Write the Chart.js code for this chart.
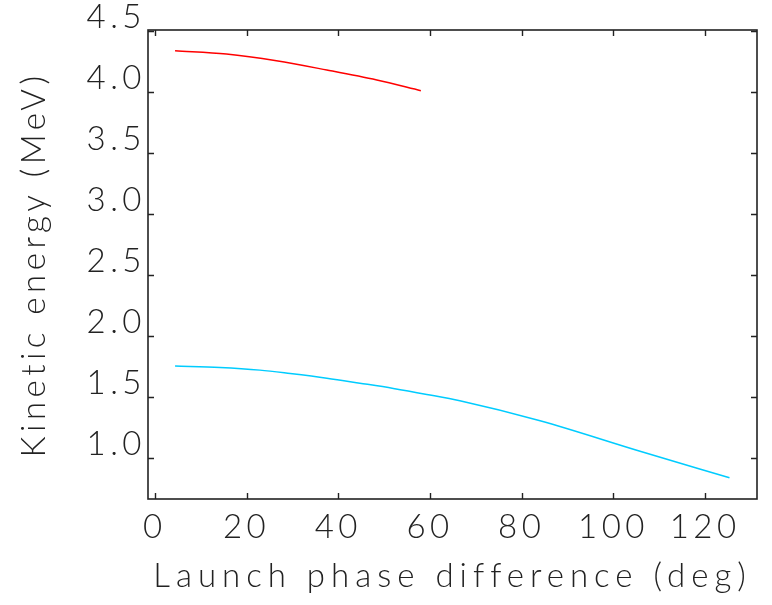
<!DOCTYPE html>
<html>
<head>
<meta charset="utf-8">
<script src="https://cdn.jsdelivr.net/npm/chart.js@4/dist/chart.umd.min.js"></script>
<style>
  html, body { margin: 0; padding: 0; background: #ffffff; }
  #wrap { width: 772px; height: 605px; position: relative; }
</style>
</head>
<body>
<div id="wrap"><canvas id="c" width="772" height="605"></canvas></div>
<script>
// ---- data ----
const xTitle = "Launch phase difference (deg)";
const yTitle = "Kinetic energy (MeV)";
const redPhase  = [4.4, 15.6, 26.5, 37.5, 48.4, 58.0];
const redEnergy = [4.340, 4.313, 4.258, 4.182, 4.100, 4.013];
const bluePhase  = [4.4, 14.2, 22.9, 29.5, 37.5, 44.7, 52.0, 59.3, 66.5, 84.0, 105.8, 125.3];
const blueEnergy = [1.757, 1.745, 1.723, 1.695, 1.657, 1.616, 1.573, 1.524, 1.472, 1.308, 1.058, 0.841];
const xRange = [-1.5, 131.3];
const yRange = [0.667, 4.51];
const xStep = 20;
const yStep = 0.5;

const toPts = (xs, ys) => xs.map((x, i) => ({ x: x, y: ys[i] }));

const FONT_FAMILY = 'Lato, "Liberation Sans", sans-serif';
const TICK_SPACING = '4.5px';
const TITLE_SPACING = { x: '6px', y: '4.5px' };
const INK = '#222222';
const FONT = { family: FONT_FAMILY, size: 33, weight: 300 };

function patchTitles(chart) {
  Object.values(chart.scales).forEach(s => {
    if (s._spacingPatched) return;
    const orig = s.drawTitle.bind(s);
    s.drawTitle = function () {
      const ctx = this.ctx;
      const prev = ctx.letterSpacing;
      ctx.letterSpacing = TITLE_SPACING[this.id] || TICK_SPACING;
      orig();
      ctx.letterSpacing = prev;
    };
    s._spacingPatched = true;
  });
}

const spacingPlugin = {
  id: 'spacing',
  beforeUpdate(chart) { chart.ctx.letterSpacing = TICK_SPACING; },
  beforeLayout(chart) { chart.ctx.letterSpacing = TICK_SPACING; },
  beforeDraw(chart) { chart.ctx.letterSpacing = TICK_SPACING; patchTitles(chart); }
};

const framePlugin = {
  id: 'frame',
  afterDatasetsDraw(chart) {
    const { ctx, chartArea: a, scales } = chart;
    ctx.save();
    ctx.strokeStyle = INK;
    ctx.lineWidth = 1.6;
    ctx.strokeRect(a.left, a.top, a.right - a.left, a.bottom - a.top);
    ctx.lineWidth = 1.4;
    const tl = 6;
    ctx.beginPath();
    scales.x.ticks.forEach(t => {
      const px = Math.round(scales.x.getPixelForValue(t.value)) + 0.5;
      ctx.moveTo(px, a.bottom); ctx.lineTo(px, a.bottom - tl);
      ctx.moveTo(px, a.top); ctx.lineTo(px, a.top + tl);
    });
    scales.y.ticks.forEach(t => {
      const py = Math.round(scales.y.getPixelForValue(t.value)) + 0.5;
      ctx.moveTo(a.left, py); ctx.lineTo(a.left + tl, py);
      ctx.moveTo(a.right, py); ctx.lineTo(a.right - tl, py);
    });
    ctx.stroke();
    ctx.restore();
  }
};

new Chart(document.getElementById('c'), {
  type: 'line',
  data: {
    datasets: [
      { data: toPts(redPhase, redEnergy), borderColor: '#ff0000', borderWidth: 1.5,
        pointRadius: 0, cubicInterpolationMode: 'monotone', fill: false },
      { data: toPts(bluePhase, blueEnergy), borderColor: 'rgb(0,204,255)', borderWidth: 1.5,
        pointRadius: 0, cubicInterpolationMode: 'monotone', fill: false }
    ]
  },
  options: {
    responsive: false,
    animation: false,
    devicePixelRatio: 1,
    layout: { padding: { left: 0, right: 15, top: 30, bottom: 0 } },
    plugins: { legend: { display: false }, tooltip: { enabled: false } },
    scales: {
      x: {
        type: 'linear', min: xRange[0], max: xRange[1],
        grid: { display: false, drawTicks: false },
        border: { display: false },
        ticks: { stepSize: xStep, includeBounds: false, padding: 9, color: INK,
                 font: FONT, maxRotation: 0, callback: v => String(v) },
        title: { display: true, text: xTitle, color: INK, font: FONT,
                 padding: { top: 0, bottom: 9 } },
        afterFit: s => { s.height = 106; }
      },
      y: {
        type: 'linear', min: yRange[0], max: yRange[1],
        grid: { display: false, drawTicks: false },
        border: { display: false },
        ticks: { stepSize: yStep, includeBounds: false, padding: 2, color: INK, labelOffset: -14,
                 font: FONT, callback: v => v.toFixed(1) },
        title: { display: true, text: yTitle, color: INK, font: FONT,
                 padding: { top: 15, bottom: 0 } },
        afterFit: s => { s.width = 148; }
      }
    }
  },
  plugins: [spacingPlugin, framePlugin]
});
</script>
</body>
</html>
